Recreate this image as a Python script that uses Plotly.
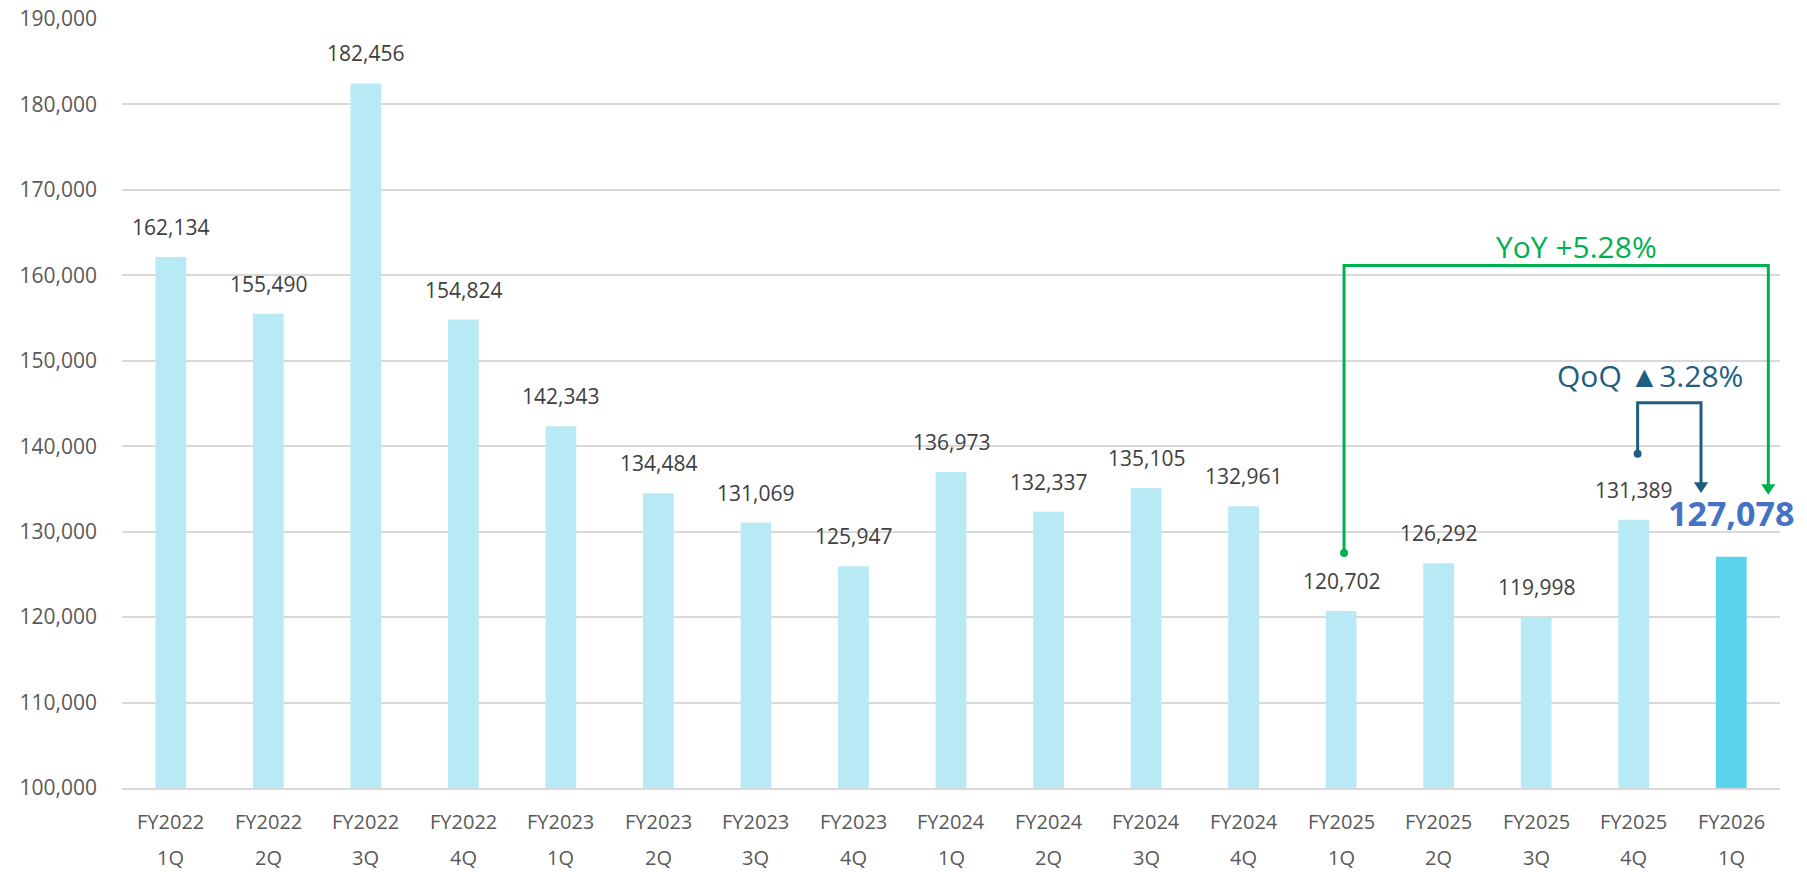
import plotly.graph_objects as go

fy_labels = ["FY2022", "FY2022", "FY2022", "FY2022", "FY2023", "FY2023", "FY2023", "FY2023",
             "FY2024", "FY2024", "FY2024", "FY2024", "FY2025", "FY2025", "FY2025", "FY2025", "FY2026"]
q_labels = ["1Q", "2Q", "3Q", "4Q", "1Q", "2Q", "3Q", "4Q",
            "1Q", "2Q", "3Q", "4Q", "1Q", "2Q", "3Q", "4Q", "1Q"]
values = [162134, 155490, 182456, 154824, 142343, 134484, 131069, 125947,
          136973, 132337, 135105, 132961, 120702, 126292, 119998, 131389, 127078]
y_ticks = [100000, 110000, 120000, 130000, 140000, 150000, 160000, 170000, 180000, 190000]

yoy_text = "YoY +5.28%"
qoq_text = "QoQ ▲3.28%"

n = len(values)
idx = list(range(n))
bar_colors = ["#B7EAF5"] * (n - 1) + ["#5AD4EC"]

FONT = "Open Sans"
GREEN = "#00B050"
QBLUE = "#1E5E84"

fig = go.Figure()
fig.add_trace(go.Bar(x=idx, y=values, marker=dict(color=bar_colors, line=dict(width=0)),
                     width=0.315, hoverinfo="skip"))

annotations = []
# data labels
for i, v in enumerate(values):
    if i == n - 1:
        annotations.append(dict(x=i, y=v, xref="x", yref="y", text=f"{v:,}", showarrow=False,
                                yshift=44, yanchor="middle",
                                font=dict(family=FONT, size=34, color="#4472C4", weight="bold")))
    else:
        annotations.append(dict(x=i, y=v, xref="x", yref="y", text=f"{v:,}", showarrow=False,
                                yshift=30, yanchor="middle",
                                font=dict(family=FONT, size=21, color="#404040")))
# x category labels (two lines)
for i in idx:
    annotations.append(dict(x=i, y=0, xref="x", yref="paper", text=fy_labels[i], showarrow=False,
                            yshift=-33, yanchor="middle",
                            font=dict(family=FONT, size=20, color="#595959")))
    annotations.append(dict(x=i, y=0, xref="x", yref="paper", text=q_labels[i], showarrow=False,
                            yshift=-69, yanchor="middle",
                            font=dict(family=FONT, size=20, color="#595959")))

shapes = []


def bracket(i_from, i_to, x_off_from, x_off_to, level, from_pad, to_pad, color, width):
    x0 = i_from + x_off_from
    x1 = i_to + x_off_to
    y0 = values[i_from] + from_pad
    y1 = values[i_to] + to_pad
    shapes.append(dict(type="path", xref="x", yref="y",
                       path=f"M {x0},{y0} L {x0},{level} L {x1},{level} L {x1},{y1 + 1100}",
                       line=dict(color=color, width=width)))
    # arrowhead
    hw = 0.073
    shapes.append(dict(type="path", xref="x", yref="y",
                       path=f"M {x1 - hw},{y1 + 1250} L {x1 + hw},{y1 + 1250} L {x1},{y1} Z",
                       fillcolor=color, line=dict(color=color, width=0)))
    return x0, y0


yx, yy = bracket(12, 16, 0.03, 0.38, 161150, 6800, 7230, GREEN, 3)
qx, qy = bracket(15, 16, 0.04, -0.31, 145100, 7720, 7460, QBLUE, 3)

fig.add_trace(go.Scatter(x=[yx, qx], y=[yy, qy], mode="markers",
                         marker=dict(color=[GREEN, QBLUE], size=8), hoverinfo="skip"))

annotations.append(dict(x=14.41, y=163350, xref="x", yref="y", text=yoy_text, showarrow=False,
                        font=dict(family=FONT, size=30, color=GREEN)))
annotations.append(dict(x=15.17, y=148250, xref="x", yref="y", text=qoq_text, showarrow=False,
                        font=dict(family=FONT, size=30, color=QBLUE)))

fig.update_layout(
    width=1807, height=872,
    margin=dict(l=122, r=27, t=19, b=84, autoexpand=False),
    paper_bgcolor="white", plot_bgcolor="white",
    showlegend=False,
    annotations=annotations,
    shapes=shapes,
    xaxis=dict(range=[-0.5, 16.5], showticklabels=False, showgrid=False, zeroline=False,
               showline=True, linecolor="#D9D9D9", linewidth=2, fixedrange=True,
               automargin=False),
    yaxis=dict(range=[100000, 190000], tickvals=y_ticks, ticktext=[f"{t:,}" for t in y_ticks],
               showgrid=True, gridcolor="#D9D9D9", gridwidth=2, zeroline=False,
               tickfont=dict(family=FONT, size=21, color="#595959"),
               ticklabelstandoff=24, fixedrange=True, automargin=False),
)

fig.write_html("out.html")
